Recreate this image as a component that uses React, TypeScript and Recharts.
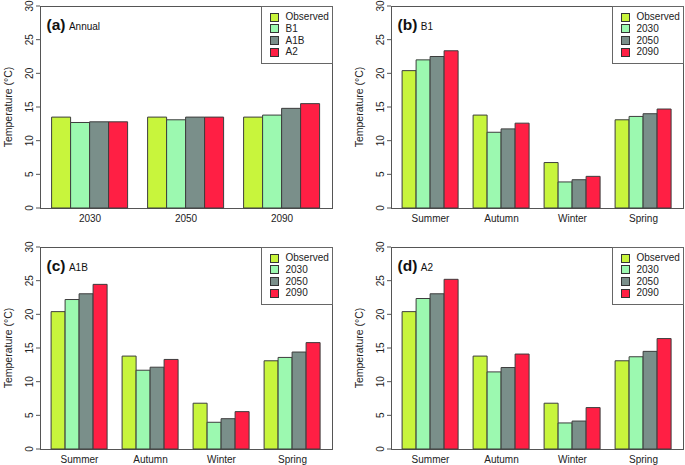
import { BarChart, Bar, XAxis, YAxis, Legend, Label } from "recharts";

const FONT = "'Liberation Sans', Arial, Helvetica, sans-serif";

const years = ["2030", "2050", "2090"];
const seasons = ["Summer", "Autumn", "Winter", "Spring"];
const yTicks = [0, 5, 10, 15, 20, 25, 30];

const scenarioNames = ["Observed", "B1", "A1B", "A2"];
const periodNames = ["Observed", "2030", "2050", "2090"];

// (a) annual means per period
const annualObserved = [13.5, 13.5, 13.5];
const annualB1 = [12.7, 13.1, 13.8];
const annualA1B = [12.8, 13.5, 14.8];
const annualA2 = [12.8, 13.5, 15.5];

// (b) B1 seasonal
const b1Observed = [20.4, 13.8, 6.75, 13.1];
const b1Y2030 = [22.0, 11.25, 3.87, 13.6];
const b1Y2050 = [22.5, 11.75, 4.2, 14.0];
const b1Y2090 = [23.35, 12.6, 4.7, 14.7];

// (c) A1B seasonal
const a1bObserved = [20.4, 13.8, 6.8, 13.1];
const a1bY2030 = [22.2, 11.7, 3.97, 13.6];
const a1bY2050 = [23.05, 12.15, 4.5, 14.4];
const a1bY2090 = [24.45, 13.3, 5.55, 15.8];

// (d) A2 seasonal
const a2Observed = [20.4, 13.8, 6.8, 13.1];
const a2Y2030 = [22.35, 11.45, 3.87, 13.7];
const a2Y2050 = [23.05, 12.1, 4.15, 14.5];
const a2Y2090 = [25.2, 14.1, 6.15, 16.4];

const colors = ["#c8f53c", "#9cf9b0", "#7a8f8a", "#ff1f44"];

type PanelProps = {
    left: number;
    top: number;
    width: number;
    height: number;
    plot: { l: number; t: number; r: number; b: number };
    pad: number;
    letter: string;
    subtitle: string;
    categories: string[];
    names: string[];
    series: number[][];
};

function RotTick(props: any) {
    const { x, y, payload } = props;
    return (
        <text
            transform={`translate(${x - 1.5},${y}) rotate(-90)`}
            textAnchor="middle"
            fontSize={10}
            fill="#222"
            fontFamily={FONT}
        >
            {payload.value}
        </text>
    );
}

function makeLegend(names: string[]) {
    return (props: any) => {
        // keep the series order (recharts sorts legend items by name otherwise)
        const items = [...props.payload].sort(
            (a: any, b: any) => names.indexOf(a.value) - names.indexOf(b.value)
        );
        return (
            <div
                style={{
                    position: "relative",
                    width: 72,
                    height: 58,
                    boxSizing: "border-box",
                    border: "1px solid #666",
                    background: "#fff",
                    fontFamily: FONT,
                    fontSize: 10,
                    color: "#222",
                }}
            >
                {items.map((entry: any, i: number) => (
                    <div
                        key={entry.value}
                        style={{ position: "absolute", left: 0, top: 4.3 + i * 11.67, height: 12, width: 70 }}
                    >
                        <span
                            style={{
                                position: "absolute",
                                left: 7.5,
                                top: 1.5,
                                width: 9,
                                height: 9,
                                boxSizing: "border-box",
                                border: "1px solid #333",
                                background: entry.color,
                            }}
                        />
                        <span style={{ position: "absolute", left: 23.5, top: 0, lineHeight: "12px" }}>
                            {entry.value}
                        </span>
                    </div>
                ))}
            </div>
        );
    };
}

function Panel({ left, top, width, height, plot, pad, letter, subtitle, categories, names, series }: PanelProps) {
    const rows = categories.map((c, i) => {
        const row: any = { cat: c };
        series.forEach((vals, k) => {
            row[`s${k}`] = vals[i];
        });
        return row;
    });
    const midY = (plot.t + plot.b) / 2;
    return (
        <div style={{ position: "absolute", left, top, width, height }}>
            <BarChart
                width={width}
                height={height}
                data={rows}
                margin={{ top: plot.t, right: width - plot.r, left: 0, bottom: 0 }}
                barCategoryGap="10%"
                barGap={0}
            >
                <XAxis
                    dataKey="cat"
                    axisLine={false}
                    tickLine={false}
                    tickSize={0}
                    tickMargin={7}
                    height={height - plot.b}
                    padding={{ left: pad, right: pad }}
                    interval={0}
                    tick={{ fontSize: 10, fill: "#222", fontFamily: FONT }}
                />
                <YAxis
                    type="number"
                    domain={[0, 30]}
                    ticks={yTicks}
                    interval={0}
                    width={plot.l}
                    axisLine={false}
                    tickLine={{ stroke: "#555" }}
                    tickSize={4}
                    tick={(p: any) => <RotTick {...p} />}
                    label={
                        <Label
                            content={() => (
                                <text
                                    transform={`translate(${plot.l - 28},${midY}) rotate(-90)`}
                                    textAnchor="middle"
                                    fontSize={10.5}
                                    fill="#222"
                                    fontFamily={FONT}
                                >
                                    Temperature (°C)
                                </text>
                            )}
                        />
                    }
                />
                {series.map((_, k) => (
                    <Bar
                        key={names[k]}
                        dataKey={`s${k}`}
                        name={names[k]}
                        fill={colors[k]}
                        stroke="#3d3d3d"
                        strokeWidth={1}
                        isAnimationActive={false}
                    />
                ))}
                <Legend
                    layout="horizontal"
                    verticalAlign="middle"
                    align="center"
                    content={makeLegend(names)}
                    wrapperStyle={{ left: plot.r - 71, top: plot.t, width: 72, height: 58 }}
                />
                <rect
                    x={plot.l + 0.5}
                    y={plot.t + 0.5}
                    width={plot.r - plot.l}
                    height={plot.b - plot.t}
                    fill="none"
                    stroke="#555"
                    strokeWidth={1}
                />
                <text x={plot.l + 6.5} y={plot.t + 23.5} fontFamily={FONT} fill="#111">
                    <tspan fontSize={15.5} fontWeight="bold">{letter}</tspan>
                    <tspan fontSize={10} dx={3.5}>{subtitle}</tspan>
                </text>
            </BarChart>
        </div>
    );
}

export default function App() {
    return (
        <div style={{ position: "absolute", left: 0, top: 0, width: 685, height: 465, background: "#fff" }}>
            <Panel
                left={0}
                top={0}
                width={342}
                height={232}
                plot={{ l: 40, t: 6, r: 332, b: 208 }}
                pad={2}
                letter="(a)"
                subtitle="Annual"
                categories={years}
                names={scenarioNames}
                series={[annualObserved, annualB1, annualA1B, annualA2]}
            />
            <Panel
                left={342}
                top={0}
                width={343}
                height={232}
                plot={{ l: 49, t: 6, r: 341, b: 208 }}
                pad={4}
                letter="(b)"
                subtitle="B1"
                categories={seasons}
                names={periodNames}
                series={[b1Observed, b1Y2030, b1Y2050, b1Y2090]}
            />
            <Panel
                left={0}
                top={232}
                width={342}
                height={233}
                plot={{ l: 40, t: 15, r: 332, b: 217 }}
                pad={4}
                letter="(c)"
                subtitle="A1B"
                categories={seasons}
                names={periodNames}
                series={[a1bObserved, a1bY2030, a1bY2050, a1bY2090]}
            />
            <Panel
                left={342}
                top={232}
                width={343}
                height={233}
                plot={{ l: 49, t: 15, r: 341, b: 217 }}
                pad={4}
                letter="(d)"
                subtitle="A2"
                categories={seasons}
                names={periodNames}
                series={[a2Observed, a2Y2030, a2Y2050, a2Y2090]}
            />
        </div>
    );
}
